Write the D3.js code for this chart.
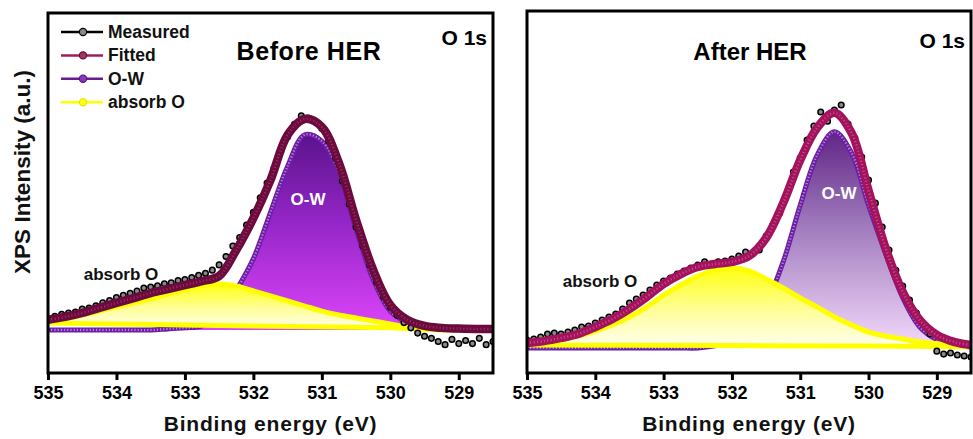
<!DOCTYPE html>
<html>
<head>
<meta charset="utf-8">
<script src="https://cdn.jsdelivr.net/npm/d3@7"></script>
<style>
  html, body { margin: 0; padding: 0; background: #fff; }
  svg text { font-family: "Liberation Sans", Arial, Helvetica, sans-serif; font-weight: bold; }
</style>
</head>
<body>
<svg id="chart" width="973" height="439"></svg>
<script>
// ---- O 1s XPS data (binding energy in eV, intensity in a.u., baseline = 0) ----

// energy grid of the fitted envelope and the two components
const energyGrid = [535, 534.75, 534.5, 534.25, 534, 533.75, 533.5, 533.25, 533, 532.75, 532.5, 532.25,
  532, 531.75, 531.5, 531.25, 531, 530.75, 530.5, 530.25, 530, 529.75, 529.5, 529.25, 529, 528.75, 528.5];

// energy grid of the measured spectrum
const energyMeasured = [535.0, 534.9, 534.8, 534.7, 534.6, 534.5, 534.4, 534.3, 534.2, 534.1,
  534.0, 533.9, 533.8, 533.7, 533.6, 533.5, 533.4, 533.3, 533.2, 533.1,
  533.0, 532.9, 532.8, 532.7, 532.6, 532.5, 532.4, 532.3, 532.2, 532.1,
  532.0, 531.9, 531.8, 531.7, 531.6, 531.5, 531.4, 531.3, 531.2, 531.1,
  531.0, 530.9, 530.8, 530.7, 530.6, 530.5, 530.4, 530.3, 530.2, 530.1,
  530.0, 529.9, 529.8, 529.7, 529.6, 529.5, 529.4, 529.3, 529.2, 529.1,
  529.0, 528.9, 528.8, 528.7, 528.6, 528.5];

// Before HER
const measuredBefore = [5.5, 6.5, 7.5, 8.0, 8.5, 10, 10.5, 11.5, 13, 14,
  15.5, 16.5, 17.5, 18.5, 20, 20.5, 21, 22, 22.5, 23.5,
  24, 25, 26, 27, 28.5, 31, 35, 40, 44, 50,
  56, 63, 70, 77, 85, 92, 98, 102, 101, 99.5,
  96, 90, 82, 71, 60, 49, 40, 31, 23, 16,
  11, 7, 3.5, 1, -1.5, -3, -4, -5.5, -7, -4.5,
  -6.5, -5, -6.5, -4, -7, -5.5];
const fittedBefore = [4.8, 6.2, 8.1, 10.5, 12.9, 15.2, 17.6, 19.5, 21.4, 23.3, 25.7, 38.1,
  53.3, 71.4, 92.9, 100.5, 96.7, 79.5, 52.4, 28.6, 11.9, 4.8, 1.9, 1.0, 0.7, 0.5, 0.5];
const owBefore = [0, 0, 0, 0, 0, 0, 0, 0.5, 1, 2, 7, 19,
  34, 56, 78, 93, 90, 75, 48, 24, 9, 3.5, 1, 0.3, 0, 0, 0];
const absorbBefore = [3.3, 5.2, 7.1, 9.0, 11.0, 12.9, 14.8, 17.1, 19.0, 21.0, 21.9, 21.0,
  18.6, 16.2, 13.8, 11.4, 9.0, 7.1, 5.7, 4.3, 2.9, 1.4, 0.5, 0, 0, 0, 0];
const bgEnergyBefore = [535, 532, 530, 529.25, 528.5];
const bgBefore = [3.3, 1.9, 1.0, 0, 0];

// After HER
const measuredAfter = [3.8, 4.3, 5.2, 6.7, 7.1, 6.7, 7.6, 8.6, 10, 10.5,
  11.9, 13.3, 14.8, 16.2, 18.6, 21.4, 23.3, 25.2, 27.6, 30,
  31.9, 33.3, 35.2, 36.7, 38.1, 39.5, 41, 40, 41, 41.4,
  42.4, 43.8, 45.7, 44.8, 46.7, 53.3, 58.6, 64.3, 72.9, 83.8,
  90.5, 99, 105.7, 112.4, 108, 113.3, 115.7, 106.7, 100, 91,
  80, 69, 57.6, 46.7, 37, 29.5, 22.9, 16.7, 11.4, 6.7,
  -1.5, -2.9, -2.4, -3.3, -3.8, -4.3];
const fittedAfter = [2.4, 3.3, 4.8, 6.7, 10, 13.8, 18.6, 24.3, 30.5, 35.2, 38.6, 40,
  41, 43.8, 52.4, 69, 89.5, 105, 112, 102.5, 75, 47.6, 26.7, 13.3, 6.2, 2.9, 1.4];
const owAfter = [0, 0, 0, 0, 0, 0, 0, 0, 0, 0, 0, 1,
  3, 9, 21, 41, 68, 92, 103, 93, 68, 45, 24, 10, 4, 1.5, 0.5];
const absorbAfter = [1.4, 2.4, 3.8, 5.7, 8.1, 11, 14.8, 19.5, 25.2, 30, 34.3, 37.1,
  38.1, 36.7, 32.9, 28.6, 23.8, 19.5, 14.8, 11, 7.6, 5.7, 4.3, 2.9, 2.1, 1.4, 1.0];
const bgEnergyAfter = [535, 532, 530, 528.5];
const bgAfter = [1.4, 1.2, 0.9, 0.6];

const xTicks = [535, 534, 533, 532, 531, 530, 529];
const xDomain = [535, 528.5];
const legendLabels = ["Measured", "Fitted", "O-W", "absorb O"];

// ---- layout & styling ----
const panels = [
  {
    title: "Before HER", titleX: 309, titleSize: 25, titleSpacing: 0.6,
    left: 48, right: 493, top: 13, bottom: 373, yDomain: [-20.5, 151],
    measured: measuredBefore, fitted: fittedBefore, ow: owBefore, absorb: absorbBefore,
    bgE: bgEnergyBefore, bg: bgBefore,
    fitColor: "#6c0a3e", fitTexture: "#b8557f",
    owStroke: "#6e1ea6", owBeads: "#c9a2ea",
    owStops: [["0%", "#5a138c"], ["45%", "#9526c8"], ["100%", "#dc44f8"]],
    owLabel: [308, 205], absorbLabel: [121, 280],
    orbitalY: 45, legend: true
  },
  {
    title: "After HER", titleX: 750, titleSize: 24, titleSpacing: 0,
    left: 527, right: 971, top: 11, bottom: 373, yDomain: [-11.9, 160.5],
    measured: measuredAfter, fitted: fittedAfter, ow: owAfter, absorb: absorbAfter,
    bgE: bgEnergyAfter, bg: bgAfter,
    fitColor: "#a3125c", fitTexture: "#e784b0",
    owStroke: "#6c1ea4", owBeads: "#c6a6e6",
    owStops: [["0%", "#612585"], ["45%", "#a27dbf"], ["100%", "#f4dafb"]],
    owLabel: [839, 199], absorbLabel: [600, 287],
    orbitalY: 48, legend: false
  }
];

const svg = d3.select("#chart");
const defs = svg.append("defs");
const curve = d3.curveCatmullRom.alpha(0.5);

panels.forEach((p, idx) => {
  const x = d3.scaleLinear().domain(xDomain).range([p.left, p.right]);
  const y = d3.scaleLinear().domain(p.yDomain).range([p.bottom, p.top]);
  const g = svg.append("g");

  const clipId = "plotClip" + idx;
  defs.append("clipPath").attr("id", clipId).append("rect")
    .attr("x", p.left).attr("y", p.top)
    .attr("width", p.right - p.left).attr("height", p.bottom - p.top);

  // vertical colour gradients for the two component fills
  const owPeak = d3.max(p.ow);
  const owGrad = defs.append("linearGradient").attr("id", "owGrad" + idx)
    .attr("gradientUnits", "userSpaceOnUse")
    .attr("x1", 0).attr("x2", 0).attr("y1", y(owPeak)).attr("y2", y(0));
  p.owStops.forEach(s => owGrad.append("stop").attr("offset", s[0]).attr("stop-color", s[1]));

  const abPeak = d3.max(p.absorb);
  const abGrad = defs.append("linearGradient").attr("id", "abGrad" + idx)
    .attr("gradientUnits", "userSpaceOnUse")
    .attr("x1", 0).attr("x2", 0).attr("y1", y(abPeak)).attr("y2", y(0));
  abGrad.append("stop").attr("offset", "0%").attr("stop-color", "#ffff10");
  abGrad.append("stop").attr("offset", "55%").attr("stop-color", "#fffe9c");
  abGrad.append("stop").attr("offset", "100%").attr("stop-color", "#fffff2");

  const plot = g.append("g").attr("clip-path", `url(#${clipId})`);
  const rows = energyGrid.map((e, i) => ({ e, fit: p.fitted[i], ow: p.ow[i], ab: p.absorb[i] }));

  // O-W component: filled peak with a beaded outline and its baseline
  const owArea = d3.area().x(d => x(d.e)).y0(y(0)).y1(d => y(d.ow)).curve(curve);
  const owLine = d3.line().x(d => x(d.e)).y(d => y(d.ow)).curve(curve);
  plot.append("path").attr("d", owArea(rows)).attr("fill", `url(#owGrad${idx})`);
  plot.append("path").attr("d", owLine(rows))
    .attr("fill", "none").attr("stroke", p.owStroke).attr("stroke-width", 5);
  plot.append("path").attr("d", owLine(rows))
    .attr("fill", "none").attr("stroke", p.owBeads).attr("stroke-width", 2.2)
    .attr("stroke-dasharray", "1.2 2").attr("opacity", 0.8);

  // absorbed-oxygen component, closed against the sloping background
  const abTop = d3.line().x(d => x(d.e)).y(d => y(d.ab)).curve(curve)(rows);
  const bgPts = p.bgE.map((e, i) => [x(e), y(p.bg[i])]).reverse();
  const abShape = abTop + d3.line()(bgPts).replace(/^M/, "L") + "Z";
  plot.append("path").attr("d", abShape)
    .attr("fill", `url(#abGrad${idx})`)
    .attr("stroke", "#ffff00").attr("stroke-width", 5).attr("stroke-linejoin", "round");

  // measured spectrum
  plot.append("g").selectAll("circle")
    .data(energyMeasured.map((e, i) => [e, p.measured[i]]))
    .join("circle")
    .attr("cx", d => x(d[0])).attr("cy", d => y(d[1])).attr("r", 2.8)
    .attr("fill", "#8a8a8a").attr("stroke", "#000").attr("stroke-width", 1.5);

  // fitted envelope
  const fitLine = d3.line().x(d => x(d.e)).y(d => y(d.fit)).curve(curve);
  plot.append("path").attr("d", fitLine(rows))
    .attr("fill", "none").attr("stroke", p.fitColor).attr("stroke-width", 8.5)
    .attr("stroke-linecap", "round");
  plot.append("path").attr("d", fitLine(rows))
    .attr("fill", "none").attr("stroke", p.fitTexture).attr("stroke-width", 2.5)
    .attr("stroke-dasharray", "1 2.4").attr("opacity", 0.55);

  // frame
  g.append("rect")
    .attr("x", p.left).attr("y", p.top)
    .attr("width", p.right - p.left).attr("height", p.bottom - p.top)
    .attr("fill", "none").attr("stroke", "#000").attr("stroke-width", 3);

  // bottom axis
  const axis = d3.axisBottom(x).tickValues(xTicks).tickSize(7).tickPadding(6)
    .tickFormat(d3.format("d"));
  const ax = g.append("g").attr("transform", `translate(0,${p.bottom})`).call(axis);
  ax.select(".domain").remove();
  ax.selectAll(".tick line").attr("stroke", "#000").attr("stroke-width", 3);
  ax.selectAll(".tick text").attr("font-size", 18).attr("fill", "#000");

  g.append("text")
    .attr("x", (p.left + p.right) / 2).attr("y", 431)
    .attr("text-anchor", "middle").attr("font-size", 21).attr("fill", "#111")
    .attr("letter-spacing", 0.8)
    .text("Binding energy (eV)");

  // titles and component labels
  g.append("text").attr("x", p.titleX).attr("y", 60).attr("text-anchor", "middle")
    .attr("font-size", p.titleSize).attr("letter-spacing", p.titleSpacing)
    .attr("fill", "#000").text(p.title);
  g.append("text").attr("x", p.right - 6).attr("y", p.orbitalY).attr("text-anchor", "end")
    .attr("font-size", 21).attr("fill", "#000").text("O 1s");
  g.append("text").attr("x", p.owLabel[0]).attr("y", p.owLabel[1]).attr("text-anchor", "middle")
    .attr("font-size", 17).attr("fill", "#fff").text("O-W");
  g.append("text").attr("x", p.absorbLabel[0]).attr("y", p.absorbLabel[1]).attr("text-anchor", "middle")
    .attr("font-size", 17).attr("fill", "#111").text("absorb O");

  if (p.legend) {
    const items = [
      { label: legendLabels[0], line: "#000", dot: "#8a8a8a", edge: "#000" },
      { label: legendLabels[1], line: "#9b1f5d", dot: "#a0365f", edge: "#6c0a3e" },
      { label: legendLabels[2], line: "#6a1b8e", dot: "#8a3ab8", edge: "#5a128a" },
      { label: legendLabels[3], line: "#ffff00", dot: "#ffff20", edge: "#e8e800" }
    ];
    const lg = g.append("g");
    items.forEach((it, i) => {
      const cy = 32 + i * 23.4;
      lg.append("line").attr("x1", 61).attr("x2", 103).attr("y1", cy).attr("y2", cy)
        .attr("stroke", it.line).attr("stroke-width", 2.5);
      lg.append("circle").attr("cx", 83).attr("cy", cy).attr("r", 3.6)
        .attr("fill", it.dot).attr("stroke", it.edge).attr("stroke-width", 1.2);
      lg.append("text").attr("x", 108).attr("y", cy + 5.8)
        .attr("font-size", 17.5).attr("fill", "#111").text(it.label);
    });
  }
});

// shared y-axis title
svg.append("text")
  .attr("transform", "translate(30,172) rotate(-90)")
  .attr("text-anchor", "middle").attr("font-size", 22.5).attr("fill", "#111")
  .text("XPS Intensity (a.u.)");
</script>
</body>
</html>
